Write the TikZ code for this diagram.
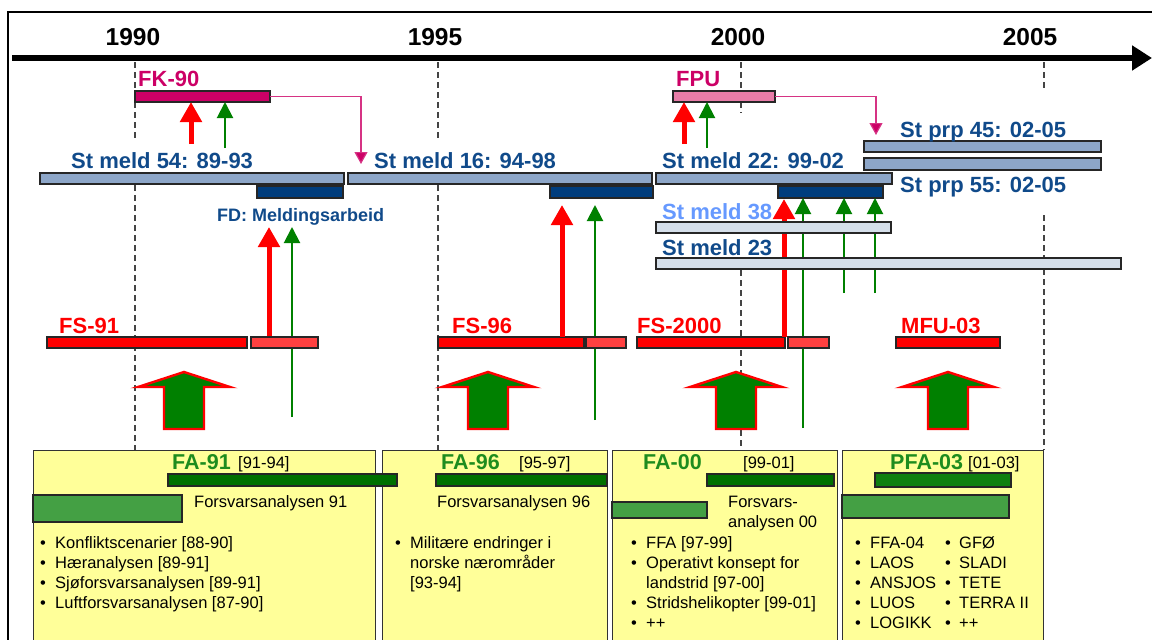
\documentclass[tikz,border=0pt]{standalone}
\usepackage{fontspec}
\setmainfont{Liberation Sans}
\usetikzlibrary{arrows.meta}
\definecolor{mag}{RGB}{204,0,102}
\definecolor{magline}{RGB}{214,51,132}
\definecolor{steel}{RGB}{141,166,200}
\definecolor{navy}{RGB}{0,61,125}
\definecolor{pale}{RGB}{213,223,234}
\definecolor{pinkbar}{RGB}{232,125,168}
\definecolor{fsred}{RGB}{255,0,0}
\definecolor{fsredb}{RGB}{255,64,64}
\definecolor{dgreen}{RGB}{0,112,0}
\definecolor{lgreen}{RGB}{68,160,68}
\definecolor{pgreen}{RGB}{16,128,16}
\definecolor{boxyel}{RGB}{255,255,153}
\definecolor{txtblue}{RGB}{16,74,138}
\definecolor{lblue}{RGB}{102,153,255}
\definecolor{tgreen}{RGB}{30,140,30}
\definecolor{agreen}{RGB}{0,128,0}
\definecolor{dashgray}{RGB}{68,68,68}
\newcommand\mybar[6]{%
  \pgfmathsetmacro\mybw{#5-#3}\pgfmathsetmacro\mybh{#6-#4}%
  \node[bar,#1,minimum width=\mybw pt,minimum height=\mybh pt,anchor=north west] (#2) at (#3,#4) {};}
\newcommand\upblock[2]{%
  \draw[blockarrow] (#2,372) -- (#2+46,387) -- (#2+20,387) -- (#2+20,429) -- (#2-20,429) -- (#2-20,387) -- (#2-46,387) -- cycle;
  \coordinate (#1) at (#2,400);}
\tikzset{
  bar/.style={draw=black!85, line width=1.1pt, inner sep=0pt, outer sep=0pt},
  lbl/.style={font=\fontsize{22}{26}\selectfont\bfseries, inner sep=0pt, anchor=base west},
  yr/.style={font=\fontsize{24.5}{28}\selectfont\bfseries, inner sep=0pt, anchor=base},
  body/.style={font=\fontsize{16.5}{20}\selectfont, inner sep=0pt, anchor=base west},
  bul/.style={font=\fontsize{16.5}{20}\selectfont, inner sep=0pt, anchor=base},
  falbl/.style={font=\fontsize{21.5}{25}\selectfont\bfseries, text=tgreen, inner sep=0pt, anchor=base west},
  yrline/.style={draw=dashgray, line width=1.3pt, dash pattern=on 6pt off 4pt},
  redarr/.style={draw=fsred, line width=5pt, -{Triangle[width=21pt,length=20pt]}},
  grnarr/.style={draw=agreen, line width=2pt, -{Triangle[width=16pt,length=16pt]}},
  magarr/.style={draw=magline, line width=1.2pt, -{Triangle[width=13pt,length=12pt,fill=mag]}},
  blockarrow/.style={fill=agreen, draw=fsred, line width=2.4pt, line join=miter},
  yelbox/.style={fill=boxyel, draw=black!80, line width=1.4pt}
}
\begin{document}
\begin{tikzpicture}[x=1pt,y=-1pt]
\useasboundingbox (0,0) rectangle (1152,640);
% frame
\draw[line width=2pt] (8,641) -- (8,12) -- (1153,12);
% axis
\coordinate (axs) at (12,58);
\coordinate (axe) at (1152,58);
\draw[line width=5.5pt, -{Triangle[width=24pt,length=20pt]}] (axs) -- (axe);
\node[yr] (y90) at (133,45) {1990};
\node[yr] (y95) at (435,45) {1995};
\node[yr] (y00) at (738,45) {2000};
\node[yr] (y05) at (1030,45) {2005};
% year lines
\draw[yrline] (135,62) -- (135,140) (135,185) -- (135,450);
\draw[yrline] (438,62) -- (438,140) (438,185) -- (438,450);
\draw[yrline] (741,62) -- (741,113) (741,270) -- (741,450);
\draw[yrline] (1044,62) -- (1044,90) (1044,215) -- (1044,258) (1044,269) -- (1044,450);
% bottom boxes
\node[yelbox, inner sep=0pt, minimum width=342pt, minimum height=200pt, anchor=north west] (box1) at (33,450) {};
\node[yelbox, inner sep=0pt, minimum width=225pt, minimum height=200pt, anchor=north west] (box2) at (382,450) {};
\node[yelbox, inner sep=0pt, minimum width=225pt, minimum height=200pt, anchor=north west] (box3) at (612,450) {};
\node[yelbox, inner sep=0pt, minimum width=201pt, minimum height=200pt, anchor=north west] (box4) at (842,450) {};
% coordinates of free arrow ends
\coordinate (fkr) at (191,144);
\coordinate (fkg) at (225,148);
\coordinate (fpr) at (684,144);
\coordinate (fpg) at (707,148);
\coordinate (r91) at (269,227);
\coordinate (g91a) at (292,417);
\coordinate (g91b) at (292,227);
\coordinate (r96) at (562,205);
\coordinate (g96a) at (595,420);
\coordinate (g96b) at (595,205);
\coordinate (g00a) at (803,428);
\coordinate (g00b) at (844,293);
\coordinate (g00c) at (875,293);
\coordinate (r00) at (784,0);
\coordinate (c1) at (361,164);
\coordinate (c2) at (876,135);
% FS bars (needed as anchors)
\mybar{fill=fsred}{fs91a}{47}{337}{247}{348}
\mybar{fill=fsredb}{fs91b}{251}{337}{318}{348}
\mybar{fill=fsred}{fs96a}{438}{337}{584}{348}
\mybar{fill=fsredb}{fs96b}{586}{337}{626}{348}
\mybar{fill=fsred}{fs00a}{637}{337}{785}{348}
\mybar{fill=fsredb}{fs00b}{788}{337}{829}{348}
\mybar{fill=fsred}{mfu}{896}{337}{1000}{348}
% top bars (first as invisible anchors for arrows)
\mybar{fill=mag}{fk90}{135}{91}{270}{102}
\mybar{fill=pinkbar}{fpu}{673}{91}{775}{102}
% arrows
\draw[redarr] (fkr) -- (fkr |- fk90.south);
\draw[grnarr] (fkg) -- (fkg |- fk90.south);
\draw[redarr] (fpr) -- (fpr |- fpu.south);
\draw[grnarr] (fpg) -- (fpg |- fpu.south);
\draw[grnarr] (g91a) -- (g91b);
\draw[redarr] (fs91b.north -| r91) -- (r91);
\draw[grnarr] (g96a) -- (g96b);
\draw[redarr] (fs96a.north -| r96) -- (r96);
% St meld bars
\mybar{fill=steel}{sm54}{40}{173}{344}{184}
\mybar{fill=steel}{sm16}{348}{173}{652}{184}
\mybar{fill=steel}{sm22}{656}{173}{892}{184}
\mybar{fill=navy}{db54}{257}{186}{343}{198}
\mybar{fill=navy}{db16}{550}{186}{653}{198}
\mybar{fill=navy}{db22}{778}{186}{883}{198}
\mybar{fill=steel}{sp45}{864}{141}{1101}{152}
\mybar{fill=steel}{sp55}{864}{158}{1101}{170}
\draw[grnarr] (g00a) -- (g00a |- db22.south);
\draw[grnarr] (g00b) -- (g00b |- db22.south);
\draw[grnarr] (g00c) -- (g00c |- db22.south);
\draw[redarr] (fs00a.north -| r00) -- ([yshift=-1pt]db22.south -| r00);
\mybar{fill=pale}{sm38}{656}{222}{891}{233}
\mybar{fill=pale}{sm23}{656}{258}{1121}{269}
% redraw FS bars over arrow stems
\mybar{fill=fsredb}{fs91c}{251}{337}{318}{348}
\mybar{fill=fsredb}{fs96c}{586}{337}{626}{348}
\mybar{fill=fsredb}{fs00c}{788}{337}{829}{348}
% magenta connectors
\draw[magarr] (fk90.east) -| (c1);
\draw[magarr] (fpu.east) -| (c2);
% block arrows
\upblock{ba1}{184}
\upblock{ba2}{488}
\upblock{ba3}{736}
\upblock{ba4}{948}
% FA bars
\mybar{fill=dgreen}{fa91}{168}{474}{397}{486}
\mybar{fill=dgreen}{fa96}{436}{474}{607}{486}
\mybar{fill=dgreen}{fa00}{707}{474}{834}{486}
\mybar{fill=pgreen}{pfa}{875}{473}{1011}{487}
\mybar{fill=lgreen}{la91}{33}{495}{182}{522}
\mybar{fill=lgreen}{la00}{612}{502}{707}{518}
\mybar{fill=lgreen}{la03}{842}{495}{1009}{518}
% labels
\node[lbl, text=mag] (tfk) at (138,86) {FK-90};
\node[lbl, text=mag] (tfpu) at (676,86) {FPU};
\node[lbl, text=txtblue] (t54) at (71,168) {St meld 54: 89-93};
\node[lbl, text=txtblue] (t16) at (374,168) {St meld 16: 94-98};
\node[lbl, text=txtblue] (t22) at (662,168) {St meld 22: 99-02};
\node[lbl, text=txtblue] (t45) at (900,137) {St prp 45: 02-05};
\node[lbl, text=txtblue] (t55) at (900,192) {St prp 55: 02-05};
\node[lbl, text=txtblue, font=\fontsize{18}{21}\selectfont\bfseries] (tfd) at (217,221) {FD: Meldingsarbeid};
\node[lbl, text=lblue] (t38) at (662,219) {St meld 38};
\node[lbl, text=txtblue] (t23) at (662,255) {St meld 23};
\node[lbl, text=fsred] (tfs91) at (59,333) {FS-91};
\node[lbl, text=fsred] (tfs96) at (452,333) {FS-96};
\node[lbl, text=fsred] (tfs00) at (637,333) {FS-2000};
\node[lbl, text=fsred] (tmfu) at (901,333) {MFU-03};
% box 1
\node[falbl] (tfa91) at (172,469) {FA-91};
\node[body] (tp91) at (238,468) {[91-94]};
\node[body] (tf91) at (194,507) {Forsvarsanalysen 91};
\node[bul] (b11) at (43,548) {•};
\node[body] (l11) at (55,548) {Konfliktscenarier [88-90]};
\node[bul] (b12) at (43,568) {•};
\node[body] (l12) at (55,568) {Hæranalysen [89-91]};
\node[bul] (b13) at (43,588) {•};
\node[body] (l13) at (55,588) {Sjøforsvarsanalysen [89-91]};
\node[bul] (b14) at (43,608) {•};
\node[body] (l14) at (55,608) {Luftforsvarsanalysen [87-90]};
% box 2
\node[falbl] (tfa96) at (441,469) {FA-96};
\node[body] (tp96) at (519,468) {[95-97]};
\node[body] (tf96) at (437,507) {Forsvarsanalysen 96};
\node[bul] (b21) at (398,548) {•};
\node[body] (l21) at (410,548) {Militære endringer i};
\node[body] (l22) at (410,568) {norske nærområder};
\node[body] (l23) at (410,588) {[93-94]};
% box 3
\node[falbl] (tfa00) at (643,469) {FA-00};
\node[body] (tp00) at (743,468) {[99-01]};
\node[body] (tf00a) at (728,507) {Forsvars-};
\node[body] (tf00b) at (728,527) {analysen 00};
\node[bul] (b31) at (634,548) {•};
\node[body] (l31) at (646,548) {FFA [97-99]};
\node[bul] (b32) at (634,568) {•};
\node[body] (l32) at (646,568) {Operativt konsept for};
\node[body] (l33) at (646,588) {landstrid [97-00]};
\node[bul] (b34) at (634,608) {•};
\node[body] (l34) at (646,608) {Stridshelikopter [99-01]};
\node[bul] (b35) at (634,628) {•};
\node[body] (l35) at (646,628) {++};
% box 4
\node[falbl] (tpfa) at (890,469) {PFA-03};
\node[body] (tp03) at (968,468) {[01-03]};
\node[bul] (b41) at (858,548) {•};
\node[body] (l41) at (870,548) {FFA-04};
\node[bul] (b42) at (858,568) {•};
\node[body] (l42) at (870,568) {LAOS};
\node[bul] (b43) at (858,588) {•};
\node[body] (l43) at (870,588) {ANSJOS};
\node[bul] (b44) at (858,608) {•};
\node[body] (l44) at (870,608) {LUOS};
\node[bul] (b45) at (858,628) {•};
\node[body] (l45) at (870,628) {LOGIKK};
\node[bul] (c41) at (948,548) {•};
\node[body] (m41) at (959,548) {GFØ};
\node[bul] (c42) at (948,568) {•};
\node[body] (m42) at (959,568) {SLADI};
\node[bul] (c43) at (948,588) {•};
\node[body] (m43) at (959,588) {TETE};
\node[bul] (c44) at (948,608) {•};
\node[body] (m44) at (959,608) {TERRA II};
\node[bul] (c45) at (948,628) {•};
\node[body] (m45) at (959,628) {++};
\end{tikzpicture}
\end{document}
